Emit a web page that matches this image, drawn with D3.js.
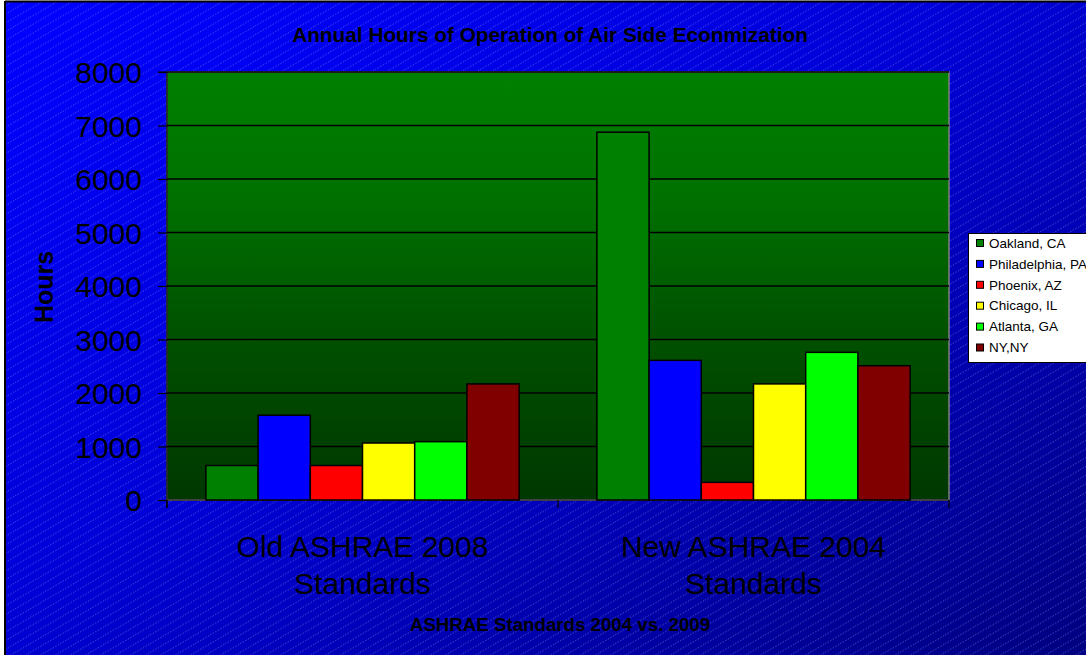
<!DOCTYPE html>
<html><head><meta charset="utf-8">
<script src="https://cdn.jsdelivr.net/npm/d3@7"></script>
<style>html,body{margin:0;padding:0;background:#fff;overflow:hidden}svg{display:block;font-family:"Liberation Sans",Arial,sans-serif}</style>
</head><body>
<script>
const categories = ["Old ASHRAE 2008|Standards", "New ASHRAE 2004|Standards"];
const seriesNames = ["Oakland, CA", "Philadelphia, PA", "Phoenix, AZ", "Chicago, IL", "Atlanta, GA", "NY,NY"];
const seriesColors = ["#008000", "#0000ff", "#ff0000", "#ffff00", "#00ff00", "#800000"];
const oakland = [645, 6875];
const philadelphia = [1585, 2610];
const phoenix = [645, 330];
const chicago = [1065, 2170];
const atlanta = [1090, 2760];
const nyny = [2170, 2510];
const yTicks = [0, 1000, 2000, 3000, 4000, 5000, 6000, 7000, 8000];
const titleText = "Annual Hours of Operation of Air Side Econmization";
const xTitle = "ASHRAE Standards 2004 vs. 2009";
const yTitle = "Hours";

const seriesValues = [oakland, philadelphia, phoenix, chicago, atlanta, nyny];

const W = 1086, H = 655;
const svg = d3.select("body").append("svg").attr("width", W).attr("height", H);
const defs = svg.append("defs");

const bg = defs.append("linearGradient").attr("id", "bgGrad")
  .attr("x1", 0).attr("y1", 0).attr("x2", 1).attr("y2", 1);
bg.append("stop").attr("offset", 0).attr("stop-color", "#0000ff");
bg.append("stop").attr("offset", 0.45).attr("stop-color", "#0000d8");
bg.append("stop").attr("offset", 1).attr("stop-color", "#000080");

const pat = defs.append("pattern").attr("id", "stripes")
  .attr("patternUnits", "userSpaceOnUse").attr("width", 15).attr("height", 8.7);
pat.append("line").attr("x1", 0).attr("y1", 8.7).attr("x2", 15).attr("y2", 0)
  .attr("stroke", "rgba(180,190,255,0.5)").attr("stroke-width", 0.8)
  .attr("stroke-dasharray", "1.5,1.5");

const pg = defs.append("linearGradient").attr("id", "plotGrad")
  .attr("x1", 0).attr("y1", 0).attr("x2", 0).attr("y2", 1);
pg.append("stop").attr("offset", 0).attr("stop-color", "#008000");
pg.append("stop").attr("offset", 0.3).attr("stop-color", "#007000");
pg.append("stop").attr("offset", 0.65).attr("stop-color", "#004e00");
pg.append("stop").attr("offset", 1).attr("stop-color", "#003800");

// background
svg.append("rect").attr("x", 5).attr("y", 2).attr("width", W).attr("height", H)
  .attr("fill", "url(#bgGrad)");
svg.append("rect").attr("x", 5).attr("y", 2).attr("width", W).attr("height", H)
  .attr("fill", "url(#stripes)");
svg.append("line").attr("x1", 5).attr("y1", 1.5).attr("x2", W).attr("y2", 1.5)
  .attr("stroke", "#000").attr("stroke-width", 2);
svg.append("line").attr("x1", 5).attr("y1", 1).attr("x2", 5).attr("y2", H)
  .attr("stroke", "#000").attr("stroke-width", 2);

const plot = {left: 167, right: 949, top: 72, bottom: 500};
const y = d3.scaleLinear().domain([0, 8000]).range([plot.bottom, plot.top]);
const x0 = d3.scaleBand().domain(categories).range([plot.left, plot.right]).paddingInner(0).paddingOuter(0);
const x1 = d3.scaleBand().domain(seriesNames).range([0, x0.bandwidth()]).paddingInner(0).paddingOuter(0.745);

svg.append("rect").attr("x", plot.left).attr("y", plot.top)
  .attr("width", plot.right - plot.left).attr("height", plot.bottom - plot.top)
  .attr("fill", "url(#plotGrad)").attr("stroke", "#808080").attr("stroke-width", 1.5);

// gridlines
svg.append("g").selectAll("line").data(yTicks.filter(d => d > 0)).join("line")
  .attr("x1", plot.left).attr("x2", plot.right)
  .attr("y1", d => y(d)).attr("y2", d => y(d))
  .attr("stroke", "#000").attr("stroke-width", 1.5);

// y axis
const yAxis = d3.axisLeft(y).tickValues(yTicks).tickSize(9).tickPadding(16).tickFormat(d3.format("d"));
const gy = svg.append("g").attr("transform", `translate(${plot.left},0)`).call(yAxis);
gy.select(".domain").attr("stroke", "#000").attr("stroke-width", 1.2)
  .attr("d", `M-9,${plot.top}H0V${plot.bottom + 8}`);
gy.selectAll(".tick line").attr("stroke", "#000").attr("stroke-width", 1.2);
gy.selectAll(".tick text").attr("fill", "#000").attr("font-size", 30)
  .attr("font-family", "'Liberation Sans', Arial, sans-serif").attr("dy", "0.35em");

// x axis
svg.append("line").attr("x1", plot.left).attr("x2", plot.right)
  .attr("y1", plot.bottom).attr("y2", plot.bottom)
  .attr("stroke", "#333").attr("stroke-width", 1.5);
const xb = [plot.left].concat(categories.map(c => x0(c) + x0.bandwidth()));
svg.append("g").selectAll("line").data(xb).join("line")
  .attr("x1", d => d).attr("x2", d => d)
  .attr("y1", plot.bottom).attr("y2", plot.bottom + 8)
  .attr("stroke", "#000").attr("stroke-width", 1.2);

// bars
const gBars = svg.append("g");
categories.forEach((c, ci) => {
  gBars.append("g").attr("transform", `translate(${x0(c)},0)`)
    .selectAll("rect").data(seriesNames.map((s, si) => ({s, si, v: seriesValues[si][ci]})))
    .join("rect")
    .attr("x", d => x1(d.s)).attr("width", x1.bandwidth())
    .attr("y", d => y(d.v)).attr("height", d => y(0) - y(d.v))
    .attr("fill", d => seriesColors[d.si])
    .attr("stroke", "#000").attr("stroke-width", 1.5);
});

// category labels
categories.forEach(c => {
  const lines = c.split("|");
  const t = svg.append("text").attr("text-anchor", "middle")
    .attr("font-size", 30).attr("fill", "#000");
  lines.forEach((ln, i) => {
    t.append("tspan").attr("x", x0(c) + x0.bandwidth() / 2)
      .attr("y", 557 + i * 37).text(ln);
  });
});

// titles
svg.append("text").attr("x", 550).attr("y", 42).attr("text-anchor", "middle")
  .attr("font-size", 20.8).attr("font-weight", "bold").attr("fill", "#000").text(titleText);
svg.append("text").attr("x", 560).attr("y", 631).attr("text-anchor", "middle")
  .attr("font-size", 18.7).attr("font-weight", "bold").attr("fill", "#000").text(xTitle);
svg.append("text").attr("transform", "translate(53,287) rotate(-90)").attr("text-anchor", "middle")
  .attr("font-size", 25).attr("font-weight", "bold").attr("fill", "#000").text(yTitle);

// legend
const lg = svg.append("g");
lg.append("rect").attr("x", 968.5).attr("y", 233.5).attr("width", 140).attr("height", 129)
  .attr("fill", "#fff").attr("stroke", "#000").attr("stroke-width", 1);
const li = lg.selectAll("g.item").data(seriesNames).join("g").attr("class", "item")
  .attr("transform", (d, i) => `translate(0,${243 + i * 20.9})`);
li.append("rect").attr("x", 976.5).attr("y", -3.5).attr("width", 7).attr("height", 7)
  .attr("fill", (d, i) => seriesColors[i]).attr("stroke", "#000").attr("stroke-width", 1);
li.append("text").attr("x", 989).attr("y", 0).attr("dy", "0.35em")
  .attr("font-size", 13.5).attr("fill", "#000").text(d => d);
</script>
</body></html>
